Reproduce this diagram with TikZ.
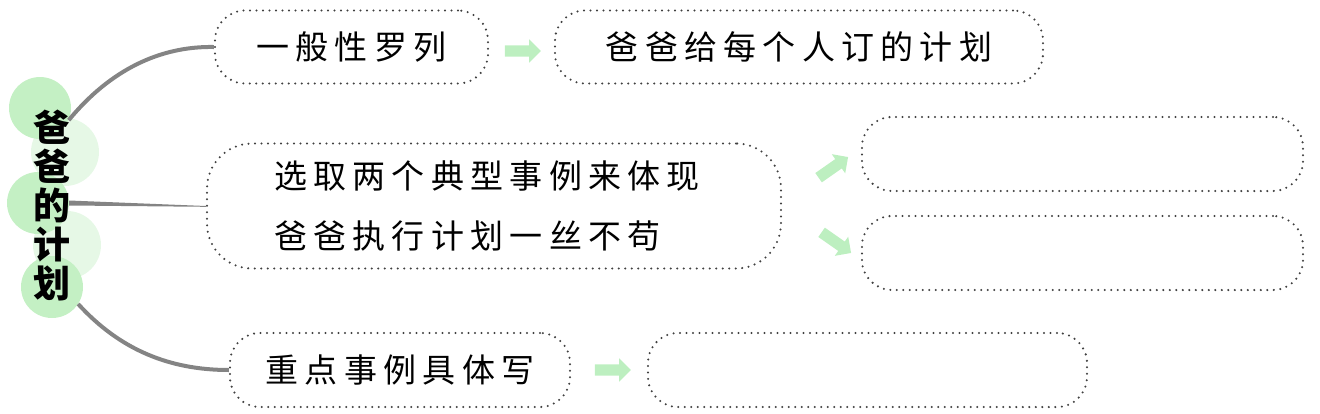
\documentclass[tikz,border=0pt]{standalone}
\usepackage{fontspec}
\usetikzlibrary{shapes.arrows,calc}
\newfontfamily\cjk{Noto Sans CJK SC}[LetterSpace=19]
\newfontfamily\cjkt{Noto Sans CJK SC}
\definecolor{dotgray}{HTML}{404040}
\definecolor{linegray}{HTML}{848484}
\definecolor{gcircle}{HTML}{C4F0C4}
\definecolor{gfaint}{HTML}{E6F8E6}
\definecolor{garrow}{HTML}{BDEFC0}
\tikzset{
  dotbox/.style={draw=dotgray, line width=2.3pt, dash pattern=on 0pt off 6.5pt, line cap=round,
    rounded corners=30pt, inner sep=0pt, font=\cjk\fontsize{33}{60}\selectfont},
  branch/.style={draw=linegray, line width=4pt},
  greenarrow/.style={single arrow, fill=garrow, draw=none, inner sep=5.5pt, single arrow head extend=6pt,
    minimum height=36pt, minimum width=23pt},
  bigdot/.style={circle, fill=gcircle, minimum size=62pt, inner sep=0pt},
  faintdot/.style={circle, fill=gfaint, minimum size=68pt, inner sep=0pt}
}
\begin{document}
\begin{tikzpicture}[x=1pt,y=-1pt]
\useasboundingbox (0,0) rectangle (1320,413);
% circles
\node[faintdot] (f1) at (65,152) {};
\node[faintdot] (f2) at (67,245) {};
\node[bigdot] (c1) at (40,108) {};
\node[bigdot] (c3) at (38,203) {};
\node[bigdot] (c5) at (52,287) {};
% boxes
\node[dotbox, minimum width=273pt, minimum height=73pt] (a) at (351.5,47) {一般性罗列};
\node[dotbox, minimum width=488pt, minimum height=73pt] (b) at (799,47) {爸爸给每个人订的计划};
\node[dotbox, minimum width=574pt, minimum height=125pt, rounded corners=45pt, align=left] (c) at (494,206)
  {选取两个典型事例来体现\kern14pt\\爸爸执行计划一丝不苟};
\node[dotbox, minimum width=441pt, minimum height=74pt] (d) at (1082.5,154) {};
\node[dotbox, minimum width=441pt, minimum height=74pt] (e) at (1082.5,253) {};
\node[dotbox, minimum width=340pt, minimum height=74pt] (f) at (400,370) {重点事例具体写};
\node[dotbox, minimum width=439pt, minimum height=74pt] (g) at (867.5,370) {};
% connectors
\draw[branch] (c1.-23) .. controls (110,70) and (160,46) .. (a.west);
\draw[branch] (c5.-33) .. controls (120,350) and (170,370) .. (f.west);
\fill[linegray] ($(c3.east)+(0,-2.5)$) -- (c.west) -- ($(c.west)+(0,0.8)$) -- ($(c3.east)+(0,2.5)$) -- cycle;
% title
\node[font=\cjkt\bfseries\fontsize{37}{39}\selectfont, align=center, inner sep=0pt] (t) at (52,205)
  {爸\\爸\\的\\计\\划};
% arrows
\node[greenarrow] (ar1) at (520,51) {};
\node[greenarrow] (ar2) at (610,370) {};
\node[greenarrow, rotate=35] (ar3) at (831,169) {};
\node[greenarrow, rotate=-35] (ar4) at (834,241) {};
\end{tikzpicture}
\end{document}
